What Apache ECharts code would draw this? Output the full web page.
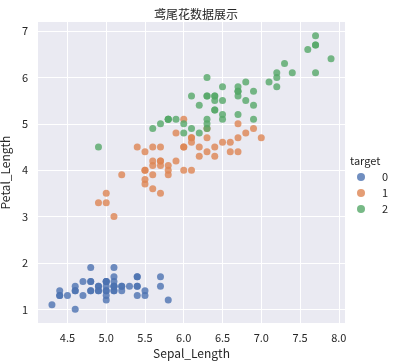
<!DOCTYPE html>
<html><head><meta charset="utf-8">
<script src="https://cdn.jsdelivr.net/npm/echarts@6/dist/echarts.min.js"></script>
<style>html,body{margin:0;padding:0;background:#fff}#c{width:395px;height:363px}</style>
</head><body><div id="c"></div>
<script>
const seriesNames = ['0', '1', '2'];
const sepal0 = [5.1,4.9,4.7,4.6,5.0,5.4,4.6,5.0,4.4,4.9,5.4,4.8,4.8,4.3,5.8,5.7,5.4,5.1,5.7,5.1,5.4,5.1,4.6,5.1,4.8,5.0,5.0,5.2,5.2,4.7,4.8,5.4,5.2,5.5,4.9,5.0,5.5,4.9,4.4,5.1,5.0,4.5,4.4,5.0,5.1,4.8,5.1,4.6,5.3,5.0];
const petal0 = [1.4,1.4,1.3,1.5,1.4,1.7,1.4,1.5,1.4,1.5,1.5,1.6,1.4,1.1,1.2,1.5,1.3,1.4,1.7,1.5,1.7,1.5,1.0,1.7,1.9,1.6,1.6,1.5,1.4,1.6,1.6,1.5,1.5,1.4,1.5,1.2,1.3,1.4,1.3,1.5,1.3,1.3,1.3,1.6,1.9,1.4,1.6,1.4,1.5,1.4];
const sepal1 = [7.0,6.4,6.9,5.5,6.5,5.7,6.3,4.9,6.6,5.2,5.0,5.9,6.0,6.1,5.6,6.7,5.6,5.8,6.2,5.6,5.9,6.1,6.3,6.1,6.4,6.6,6.8,6.7,6.0,5.7,5.5,5.5,5.8,6.0,5.4,6.0,6.7,6.3,5.6,5.5,5.5,6.1,5.8,5.0,5.6,5.7,5.7,6.2,5.1,5.7];
const petal1 = [4.7,4.5,4.9,4.0,4.6,4.5,4.7,3.3,4.6,3.9,3.5,4.2,4.0,4.7,3.6,4.4,4.5,4.1,4.5,3.9,4.8,4.0,4.9,4.7,4.3,4.4,4.8,5.0,4.5,3.5,3.8,3.7,3.9,5.1,4.5,4.5,4.7,4.4,4.1,4.0,4.4,4.6,4.0,3.3,4.2,4.2,4.2,4.3,3.0,4.1];
const sepal2 = [6.3,5.8,7.1,6.3,6.5,7.6,4.9,7.3,6.7,7.2,6.5,6.4,6.8,5.7,5.8,6.4,6.5,7.7,7.7,6.0,6.9,5.6,7.7,6.3,6.7,7.2,6.2,6.1,6.4,7.2,7.4,7.9,6.4,6.3,6.1,7.7,6.3,6.4,6.0,6.9,6.7,6.9,5.8,6.8,6.7,6.7,6.3,6.5,6.2,5.9];
const petal2 = [6.0,5.1,5.9,5.6,5.8,6.6,4.5,6.3,5.8,6.1,5.1,5.3,5.5,5.0,5.1,5.3,5.5,6.7,6.9,5.0,5.7,4.9,6.7,4.9,5.7,6.0,4.8,4.9,5.6,5.8,6.1,6.4,5.6,5.1,5.6,6.1,5.6,5.5,4.8,5.4,5.6,5.1,5.1,5.9,5.7,5.2,5.0,5.2,5.4,5.1];
const xTicks = [4.5, 5.0, 5.5, 6.0, 6.5, 7.0, 7.5, 8.0];
const yTicks = [1, 2, 3, 4, 5, 6, 7];
const colors = ['#4C72B0', '#DD8452', '#55A868'];

const FONT = '"Noto Sans CJK SC", "Noto Sans", sans-serif';
const xs = [sepal0, sepal1, sepal2], ys = [petal0, petal1, petal2];
const chart = echarts.init(document.getElementById('c'), null, {renderer: 'canvas'});
chart.setOption({
  animation: false,
  backgroundColor: '#fff',
  textStyle: {fontFamily: FONT},
  title: {text: '鸢尾花数据展示', left: 191, top: 3, textAlign: 'center',
    textStyle: {fontSize: 12, fontWeight: 'normal', color: '#262626', fontFamily: FONT}},
  grid: {left: 38, right: 50, top: 22, bottom: 40, show: true, backgroundColor: '#EAEAF2', borderWidth: 0,
    outerBoundsMode: 'none', containLabel: false},
  xAxis: {type: 'value', min: 4.12, max: 8.08,
    name: 'Sepal_Length', nameLocation: 'middle', nameGap: 24,
    nameTextStyle: {fontSize: 12, color: '#262626', fontFamily: FONT},
    axisLine: {show: false}, axisTick: {show: false, customValues: xTicks},
    axisLabel: {fontSize: 11, color: '#262626', margin: 9, customValues: xTicks,
      formatter: v => v.toFixed(1)},
    splitLine: {show: true, lineStyle: {color: '#ffffff', width: 1}}},
  yAxis: {type: 'value', min: 0.705, max: 7.195,
    name: 'Petal_Length', nameLocation: 'middle', nameGap: 22,
    nameTextStyle: {fontSize: 12, color: '#262626', fontFamily: FONT},
    axisLine: {show: false}, axisTick: {show: false, customValues: yTicks},
    axisLabel: {fontSize: 11, color: '#262626', margin: 10, customValues: yTicks,
      formatter: v => String(Math.round(v))},
    splitLine: {show: true, lineStyle: {color: '#ffffff', width: 1}}},
  legend: {orient: 'vertical', left: 357, top: 170, itemWidth: 8, itemHeight: 8, itemGap: 2,
    icon: 'circle', data: seriesNames, padding: 0,
    textStyle: {fontSize: 11, lineHeight: 14, color: '#262626', fontFamily: FONT, padding: [0, 0, 0, 12]}},
  graphic: [{type: 'text', left: 350, top: 155,
    style: {text: 'target', fontSize: 11, fill: '#262626', fontFamily: FONT}}],
  series: seriesNames.map((n, i) => ({
    name: n, type: 'scatter', symbol: 'circle', symbolSize: 7,
    itemStyle: {color: colors[i], opacity: 0.8},
    data: xs[i].map((x, j) => [x, ys[i][j]])
  }))
});
</script></body></html>
